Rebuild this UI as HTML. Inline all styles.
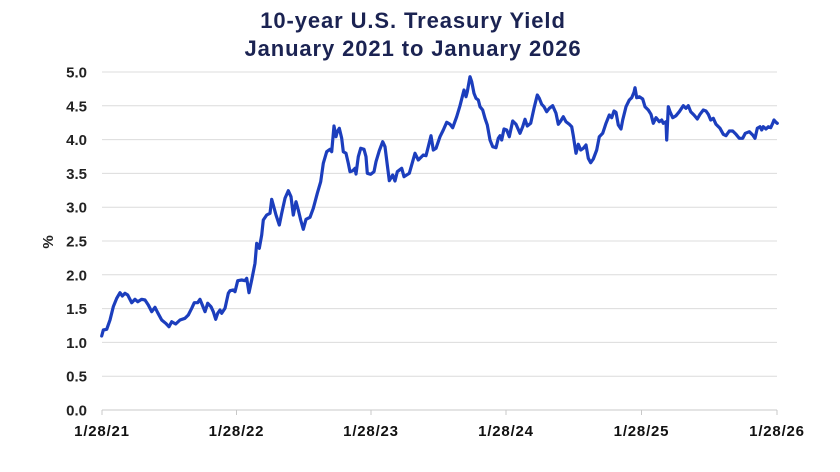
<!DOCTYPE html>
<html><head><meta charset="utf-8"><style>
html,body{margin:0;padding:0;background:#fff;}
body{width:840px;height:472px;overflow:hidden;}
svg{display:block;}
.t{font-family:"Liberation Sans",sans-serif;font-weight:bold;fill:#1b2352;font-size:22px;letter-spacing:0.9px;}
.yl{font-family:"Liberation Sans",sans-serif;font-weight:bold;fill:#222;font-size:15px;}
.xl{font-family:"Liberation Sans",sans-serif;font-weight:bold;fill:#111;font-size:15px;letter-spacing:0.8px;}
</style></head><body>
<svg width="840" height="472" viewBox="0 0 840 472" xmlns="http://www.w3.org/2000/svg">
<text class="t" x="413" y="28" text-anchor="middle">10-year U.S. Treasury Yield</text>
<text class="t" x="413" y="56" text-anchor="middle">January 2021 to January 2026</text>
<g stroke="#dcdcdc" stroke-width="1">
<line x1="102" x2="777" y1="72" y2="72"/>
<line x1="102" x2="777" y1="105.8" y2="105.8"/>
<line x1="102" x2="777" y1="139.6" y2="139.6"/>
<line x1="102" x2="777" y1="173.4" y2="173.4"/>
<line x1="102" x2="777" y1="207.2" y2="207.2"/>
<line x1="102" x2="777" y1="241" y2="241"/>
<line x1="102" x2="777" y1="274.8" y2="274.8"/>
<line x1="102" x2="777" y1="308.6" y2="308.6"/>
<line x1="102" x2="777" y1="342.4" y2="342.4"/>
<line x1="102" x2="777" y1="376.2" y2="376.2"/>
</g>
<g stroke="#c8c8c8" stroke-width="1">
<line x1="102" x2="777" y1="410" y2="410"/>
<line x1="102" x2="102" y1="410" y2="415"/>
<line x1="236.5" x2="236.5" y1="410" y2="415"/>
<line x1="371" x2="371" y1="410" y2="415"/>
<line x1="506" x2="506" y1="410" y2="415"/>
<line x1="641.5" x2="641.5" y1="410" y2="415"/>
<line x1="777" x2="777" y1="410" y2="415"/>
</g>
<g class="yl" text-anchor="end">
<text x="87" y="77.5">5.0</text>
<text x="87" y="111.3">4.5</text>
<text x="87" y="145.1">4.0</text>
<text x="87" y="178.9">3.5</text>
<text x="87" y="212.7">3.0</text>
<text x="87" y="246.5">2.5</text>
<text x="87" y="280.3">2.0</text>
<text x="87" y="314.1">1.5</text>
<text x="87" y="347.9">1.0</text>
<text x="87" y="381.7">0.5</text>
<text x="87" y="415.5">0.0</text>
</g>
<text class="yl" x="0" y="0" text-anchor="middle" transform="translate(53,242) rotate(-90)">%</text>
<g class="xl" text-anchor="middle">
<text x="102" y="436">1/28/21</text>
<text x="236.5" y="436">1/28/22</text>
<text x="371" y="436">1/28/23</text>
<text x="506" y="436">1/28/24</text>
<text x="641.5" y="436">1/28/25</text>
<text x="777" y="436">1/28/26</text>
</g>
<polyline fill="none" stroke="#1c3ebd" stroke-width="3.2" stroke-linejoin="round" stroke-linecap="round" points="
101.7,336 103.3,330 106.7,329.3 110,320 113.3,306.7 116.7,298.3 120,292.7 122.3,296 125,293.3 127.7,295 131.7,302.7 135,299.3 137.7,301.7 141.7,299.3 145,300 148.3,305 151.7,311.7 155,307.3 157.7,312.7 161.7,320 165.7,323.3 169,326.7 171.7,321.7 175.7,324 180,320 185,318.3 188.3,315 191.7,308.3 194.3,302.7 197.7,302.7 200,299.3 202.3,305 205,311.7 207.7,303.3 211,306.7 213.3,311.7 215.7,319.3 217.7,313.3 220,310 221.7,313.3 225,308.3 228.3,293.3 230,290.7 233.3,290 235,291.7 237.7,280.7 241.7,280 245,280.7 246.7,278.3 249,292.7 251.7,280 255,263.3 256.7,243.3 259.3,248.3 261.7,235 263.3,220 266.7,215 270,213.3 271.7,199.3 273.3,205 276,215 279.3,225 281.7,213.3 285,198.3 288.3,190.7 291,196.7 293.3,215 296,201.7 298.3,210 300.7,220 303.3,229.3 306,219.3 310,217.3 313.3,208.3 317.3,193.3 320.7,181.7 323.3,163.3 326.7,151.7 330,149.3 331.7,151.7 334,126 336,136.7 337.3,131.7 339.3,128.3 341.7,138.3 343.3,151.7 346,153.3 348.3,163.3 350,171.7 352.7,170.7 355,168.3 356,174 358.3,156.7 360.7,148.3 364,149.3 366,156.7 367.3,173.3 370.7,174.3 374,171.7 376,161.7 379.3,150.7 382.7,141.7 385,146.7 387.3,165 389.3,180.7 392.7,175 395,181 397.3,171.7 401.7,168.3 404,176.7 409.3,173.3 415,153.3 418.3,160 423.3,155 426,155.7 428.3,146.7 431,135.7 433.3,150 436,148.3 440,136.7 443.3,130 446.7,122.3 450,124.3 452.7,127.7 456.7,116.7 460,105.7 464,90 466,96.7 467.3,91.7 470,76.7 471.7,81.7 474,93.3 476,98.3 478.3,100 480,106.7 482.7,110 485,118.3 487.3,125 490,140 492.7,146.7 496,147.7 498.3,138.3 500,135.7 501.7,140 504,129 506.7,130 509.3,136.7 512.7,121 516,124.3 520,133.3 522.7,126.7 525,119.3 527.3,126 530.7,123.3 534,108.3 537.3,95 539.3,98.3 541.7,104.3 544,106.7 546.7,111.7 549.3,108.3 552.7,105.7 556,113.3 558.3,124.3 560.7,121 563.3,116.7 566,121.7 569.3,124.3 571.7,126.7 573.3,135.7 576,153.3 578.3,144.3 580.7,150 583.3,148.3 586,145 588.3,158.3 590.7,162.7 593.3,159 596.7,150 599.3,136.7 602.7,133.3 606,123.3 609.3,115 611.7,117.7 614,111 616,112.3 618.3,125 621,129 622.7,120 626,106.7 629.3,100 631.7,97.7 634,92.3 635,87.7 636.7,97.7 639.3,96.7 642.7,99 645,106.7 648.3,110 651,114.3 653.3,123.3 656,117.7 659.3,121.7 661.7,120 663.3,123.3 666,121.7 666.7,140 668.3,106.7 670,111.7 672.7,117.7 676,115.7 679.3,111.7 683.3,105.7 686,108.3 688.3,105.7 690.7,111.7 694,115 697.3,119 700,114.3 703.3,110 706,111 708.3,114.3 710.7,120 713.3,118.3 716,124.3 720,128.3 723.3,134.3 726,135.7 729.3,131 732.7,131 736,134.3 739.3,138.3 742.7,138.3 745.3,133.3 749.3,131.7 752.7,135 755,138.3 757.3,128.3 760,126.7 761.7,130 763.3,126.7 766,129 768.3,126.7 770.7,127.7 772.7,123.3 774,120 776,122.3 777.3,123.3"/>
</svg>
</body></html>
